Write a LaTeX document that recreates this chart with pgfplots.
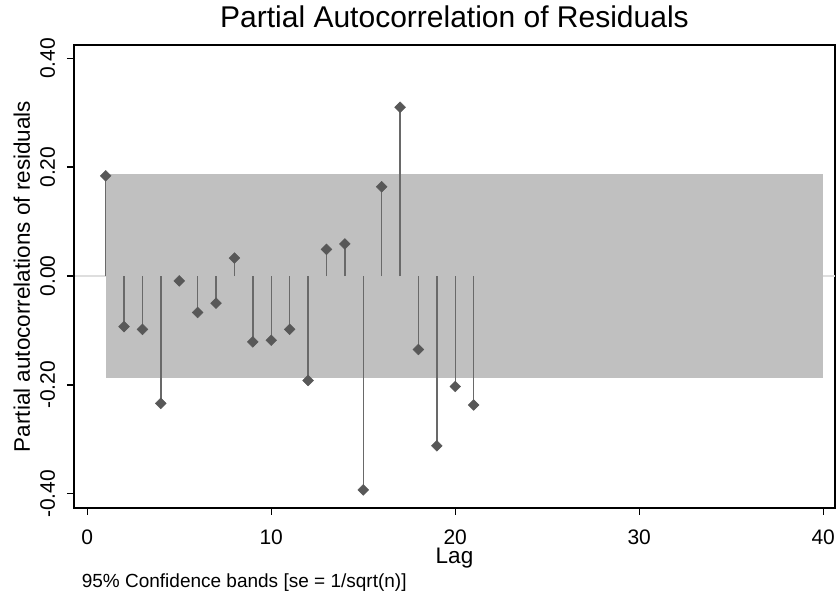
\documentclass[border=0pt]{standalone}
\usepackage{fontspec}
\setmainfont{Liberation Sans}
\usepackage{pgfplots}
\usepackage{pgfplotstable}
\pgfplotsset{compat=1.18}

\definecolor{bandgray}{RGB}{192,192,192}
\definecolor{stemgray}{RGB}{105,105,105}
\definecolor{markgray}{RGB}{88,88,88}
\definecolor{zerogray}{RGB}{222,222,222}

% partial autocorrelations
\pgfplotstableread{
lag pac
1 0.184
2 -0.093
3 -0.098
4 -0.234
5 -0.009
6 -0.067
7 -0.050
8 0.033
9 -0.121
10 -0.118
11 -0.098
12 -0.192
13 0.049
14 0.059
15 -0.393
16 0.164
17 0.310
18 -0.135
19 -0.312
20 -0.203
21 -0.237
}\pacdata

\begin{document}
\begin{tikzpicture}
\useasboundingbox (0,0) rectangle (839bp,596bp);
\begin{axis}[
  at={(74bp,88bp)}, anchor=south west,
  scale only axis, width=761bp, height=463bp,
  xmin=-0.72, xmax=40.64, ymin=-0.4262, ymax=0.4244,
  xtick={0,10,20,30,40}, ytick={-0.4,-0.2,0,0.2,0.4},
  xtick pos=bottom, ytick pos=left,
  tick align=outside, major tick length=7bp,
  every tick/.style={black, line width=1.3bp},
  axis line style={black, line width=1.3bp},
  /pgf/number format/assume math mode=true,
  tick label style={font=\fontsize{21bp}{25bp}\selectfont},
  yticklabel style={/pgf/number format/fixed, /pgf/number format/fixed zerofill,
    /pgf/number format/precision=2, xshift=-12bp, rotate=90, anchor=base},
  xticklabel style={anchor=base, yshift=-29bp},
  title={Partial Autocorrelation of Residuals},
  title style={at={(0.5,1)}, anchor=base, yshift=11.7bp, font=\fontsize{30bp}{36bp}\selectfont},
  xlabel={Lag},
  every axis x label/.style={at={(0.5,0)}, yshift=-55.5bp, anchor=base, font=\fontsize{22.5bp}{27bp}\selectfont},
  ylabel={Partial autocorrelations of residuals},
  every axis y label/.style={at={(0,0.5)}, xshift=-44bp, rotate=90, anchor=base, font=\fontsize{22.5bp}{27bp}\selectfont},
  clip=false,
]
\addplot[zerogray, line width=1.3bp] coordinates {(-0.72,0) (40.64,0)};
\addplot[fill=bandgray, draw=none] coordinates {(1,0.1875) (40,0.1875) (40,-0.1875) (1,-0.1875)} -- cycle;
\addplot[ycomb, stemgray, line width=1.4bp, mark=square*,
  mark size=3.8bp, mark options={rotate=45, fill=markgray, draw=markgray, line width=0.5bp}]
  table[x=lag, y=pac] {\pacdata};
\draw[black, line width=2.2bp] (rel axis cs:0,1) -- (rel axis cs:0,0) -- (rel axis cs:1,0);
\end{axis}
\node[anchor=base west, font=\fontsize{19bp}{23bp}\selectfont] at (78.3bp,9bp)
  {95\% Confidence bands [se = 1/sqrt(n)]};
\end{tikzpicture}
\end{document}
